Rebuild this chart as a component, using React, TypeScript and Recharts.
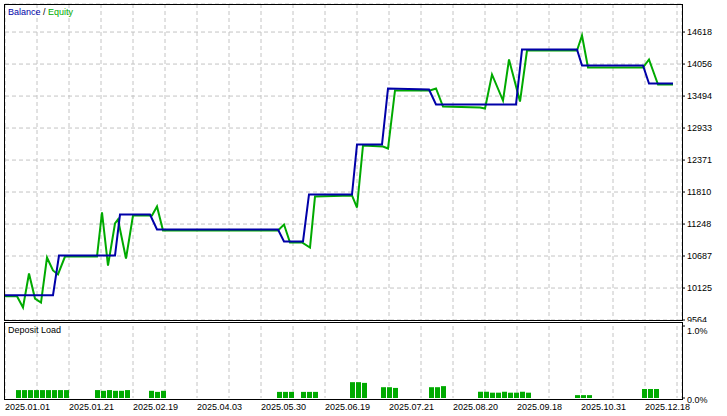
import { LineChart, Line, BarChart, Bar, XAxis, YAxis, CartesianGrid } from 'recharts'

// deal index (x) / balance
const balanceDeals = [0, 48, 54, 110, 115, 145, 152, 273, 279, 298, 304, 347, 352, 377, 383, 424, 431, 511, 517, 572, 577, 638, 644, 668]
const balanceValues = [10000, 10000, 10696, 10696, 11415, 11415, 11152, 11152, 10942, 10942, 11767, 11767, 12644, 12644, 13627, 13609, 13346, 13346, 14311, 14311, 14030, 14030, 13715, 13715]

// deal index (x) / equity
const equityDeals = [0, 12, 18, 24, 30, 36, 42, 48, 53, 60, 92, 97, 103, 110, 113, 121, 128, 147, 152, 158, 273, 279, 285, 297, 305, 310, 347, 352, 358, 378, 383, 390, 425, 431, 438, 475, 480, 487, 498, 504, 515, 522, 572, 577, 583, 638, 644, 653, 668]
const equityValues = [9982, 9982, 9783, 10380, 9941, 9871, 10661, 10433, 10363, 10678, 10678, 11451, 10520, 11258, 11328, 10643, 11398, 11398, 11556, 11135, 11135, 11240, 10924, 10924, 10836, 11731, 11750, 11538, 12627, 12609, 12574, 13592, 13592, 13627, 13311, 13293, 13276, 13873, 13416, 14136, 13398, 14294, 14294, 14557, 13995, 13995, 14136, 13697, 13697]

// deposit load, %
const depositDeals = [14, 20, 26, 32, 38, 44, 50, 56, 62, 93, 99, 105, 111, 117, 123, 147, 153, 159, 275, 281, 287, 299, 305, 311, 348, 354, 360, 379, 385, 391, 427, 433, 439, 476, 482, 488, 494, 500, 506, 512, 518, 524, 573, 579, 585, 640, 646, 652]
const depositLoad = [0.11, 0.11, 0.11, 0.11, 0.11, 0.11, 0.11, 0.11, 0.11, 0.11, 0.1, 0.11, 0.1, 0.1, 0.11, 0.1, 0.085, 0.1, 0.085, 0.085, 0.085, 0.085, 0.085, 0.085, 0.22, 0.22, 0.21, 0.15, 0.15, 0.14, 0.15, 0.15, 0.165, 0.087, 0.087, 0.074, 0.074, 0.087, 0.074, 0.074, 0.087, 0.074, 0.04, 0.04, 0.04, 0.125, 0.125, 0.125]

const priceTicks = [9564, 10125, 10687, 11248, 11810, 12371, 12933, 13494, 14056, 14618]
const loadTicks = [0, 1]
const gridTicks = [0, 32, 64, 96, 128, 160, 192, 224, 256, 288, 320, 352, 384, 416, 448, 480, 512, 544, 576, 608, 640, 672]
const dateTicks = [0, 64, 128, 192, 256, 320, 384, 448, 512, 576, 640]
const dateLabels = ['2025.01.01', '2025.01.21', '2025.02.19', '2025.04.03', '2025.05.30', '2025.06.19', '2025.07.21', '2025.08.20', '2025.09.18', '2025.10.31', '2025.12.18']

const balanceData = balanceDeals.map((deal, i) => ({ deal, value: balanceValues[i] }))
const equityData = equityDeals.map((deal, i) => ({ deal, value: equityValues[i] }))
const depositData = depositDeals.map((deal, i) => ({ deal, load: depositLoad[i] }))

const FONT = "'Liberation Sans', Arial, sans-serif"
const BLUE = '#0000a8'
const GREEN = '#00aa00'
const GRID = '#c4c4c4'
const tickStyle = { fill: '#000', fontSize: 9, fontFamily: FONT }

function DateTick({ x, y, payload }: any) {
  const i = dateTicks.indexOf(payload.value)
  if (i < 0) return null
  return (
    <text x={x} y={y} dy="0.71em" textAnchor="start" fill="#000" fontSize={9} fontFamily={FONT}>
      {dateLabels[i]}
    </text>
  )
}

// MT5 puts the load labels a touch below their level
function LoadTick({ x, y, payload }: any) {
  return (
    <text x={x} y={y + 2} dy="0.355em" textAnchor="start" fill="#000" fontSize={9} fontFamily={FONT}>
      {payload.value.toFixed(1) + '%'}
    </text>
  )
}

export default function App() {
  return (
    <div style={{ position: 'absolute', left: 0, top: 0, width: 727, height: 416, background: '#fff', fontFamily: FONT }}>
      <div style={{ position: 'absolute', left: 0, top: 0 }}>
        <LineChart width={727} height={322} margin={{ top: 4, right: 0, bottom: 2, left: 5 }}>
          <CartesianGrid stroke={GRID} strokeDasharray="4 3" />
          <XAxis type="number" dataKey="deal" domain={[0, 677]} ticks={gridTicks} hide allowDuplicatedCategory={false} />
          <YAxis
            orientation="right"
            width={45}
            domain={[9564, 15110]}
            ticks={priceTicks}
            interval={0}
            axisLine={false}
            tickSize={3}
            tickMargin={2}
            tickLine={{ stroke: '#000' }}
            tick={tickStyle}
          />
          <Line data={equityData} dataKey="value" type="linear" stroke={GREEN} strokeWidth={2} dot={false} isAnimationActive={false} />
          <Line data={balanceData} dataKey="value" type="linear" stroke={BLUE} strokeWidth={2} dot={false} isAnimationActive={false} />
        </LineChart>
      </div>
      <div style={{ position: 'absolute', left: 0, top: 320 }}>
        <BarChart width={727} height={96} data={depositData} margin={{ top: 6, right: 0, bottom: 0, left: 5 }}>
          <CartesianGrid stroke={GRID} strokeDasharray="4 3" horizontal={false} />
          <XAxis
            type="number"
            dataKey="deal"
            domain={[0, 677]}
            ticks={gridTicks}
            interval={0}
            height={18}
            axisLine={false}
            tickLine={false}
            tickSize={0}
            tickMargin={6}
            tick={<DateTick />}
          />
          <YAxis
            orientation="right"
            width={45}
            domain={[0, 1]}
            ticks={loadTicks}
            axisLine={false}
            tickSize={3}
            tickMargin={2}
            tickLine={{ stroke: '#000' }}
            tick={<LoadTick />}
          />
          <Bar dataKey="load" fill={GREEN} barSize={5} isAnimationActive={false} />
        </BarChart>
      </div>
      <div style={{ position: 'absolute', left: 4, top: 4, width: 679, height: 317, border: '1px solid #000', boxSizing: 'border-box', pointerEvents: 'none' }} />
      <div style={{ position: 'absolute', left: 4, top: 322, width: 679, height: 78, border: '1px solid #000', boxSizing: 'border-box', pointerEvents: 'none' }} />
      <div style={{ position: 'absolute', left: 8, top: 7, fontSize: 9, lineHeight: '11px', whiteSpace: 'nowrap' }}>
        <span style={{ color: BLUE }}>Balance</span> / <span style={{ color: GREEN }}>Equity</span>
      </div>
      <div style={{ position: 'absolute', left: 8, top: 325, fontSize: 9, lineHeight: '11px', color: '#000' }}>Deposit Load</div>
    </div>
  )
}
